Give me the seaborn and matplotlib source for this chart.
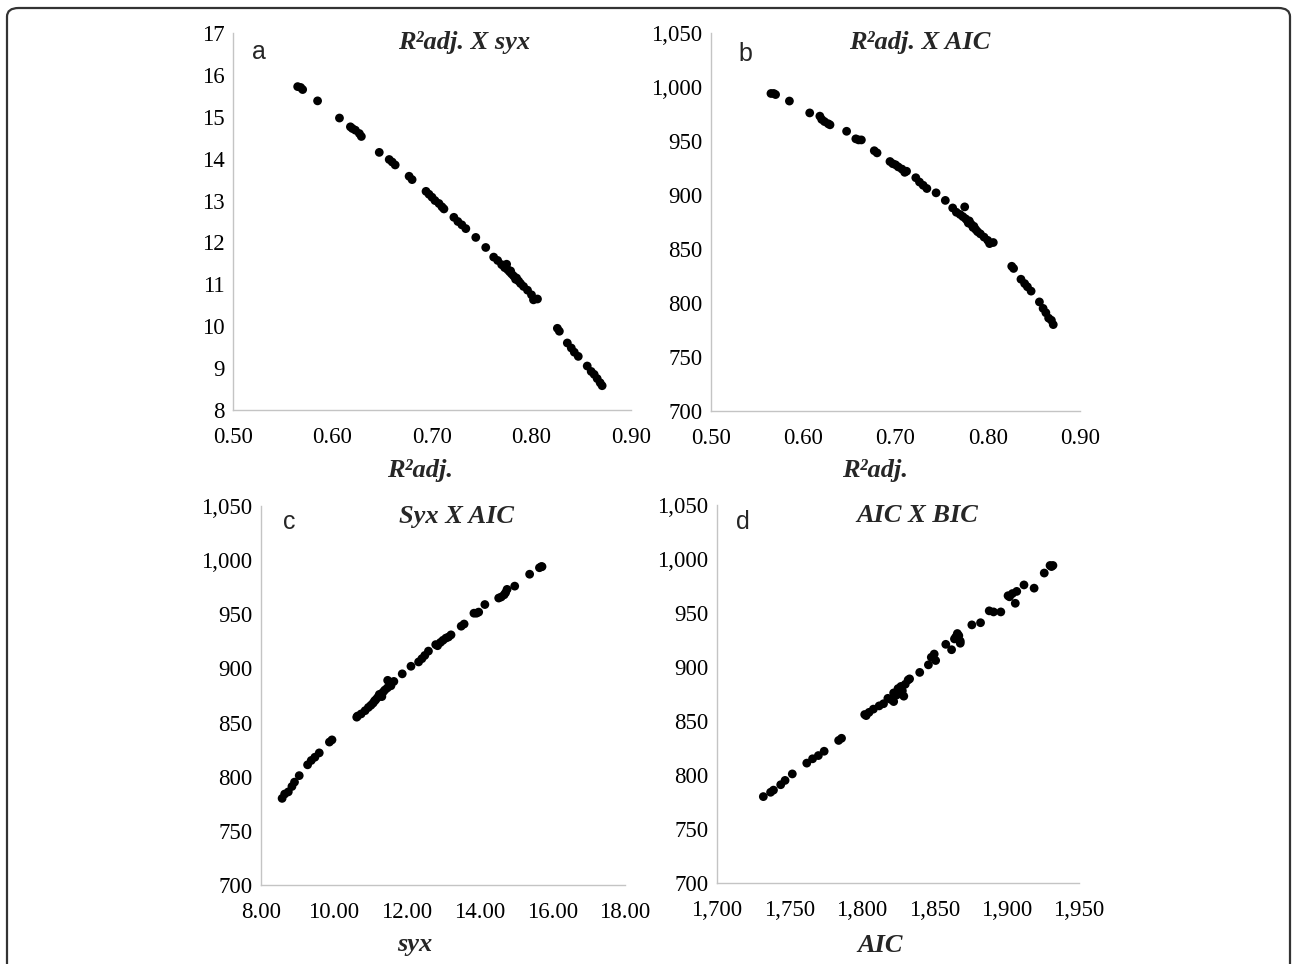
import matplotlib
matplotlib.use("Agg")
import matplotlib.pyplot as plt
from matplotlib.ticker import FuncFormatter, MultipleLocator
from matplotlib.patches import FancyBboxPatch
import seaborn as sns
import pandas as pd

# Fit statistics of the candidate models
r2_adj = [0.565, 0.568, 0.570, 0.585, 0.607, 0.618, 0.620, 0.623, 0.627, 0.629,
          0.647, 0.657, 0.660, 0.663, 0.677, 0.680, 0.694, 0.697, 0.700, 0.703,
          0.707, 0.710, 0.712, 0.722, 0.726, 0.730, 0.734, 0.744, 0.754, 0.762,
          0.766, 0.770, 0.773, 0.775, 0.776, 0.778, 0.779, 0.780, 0.782, 0.784,
          0.785, 0.787, 0.789, 0.792, 0.796, 0.800, 0.802, 0.806, 0.826, 0.828,
          0.836, 0.840, 0.843, 0.847, 0.856, 0.860, 0.863, 0.866, 0.869, 0.871]
syx = [15.72, 15.70, 15.65, 15.38, 14.97, 14.76, 14.72, 14.68, 14.60, 14.53,
       14.15, 13.98, 13.92, 13.85, 13.58, 13.50, 13.22, 13.15, 13.08, 13.00,
       12.93, 12.85, 12.80, 12.60, 12.50, 12.42, 12.33, 12.12, 11.88, 11.65,
       11.57, 11.47, 11.40, 11.48, 11.35, 11.30, 11.32, 11.25, 11.20, 11.12,
       11.15, 11.08, 11.02, 10.95, 10.86, 10.75, 10.63, 10.65, 9.95, 9.88,
       9.60, 9.48, 9.38, 9.28, 9.05, 8.92, 8.85, 8.75, 8.65, 8.58]
bic = [994, 994, 993, 987, 976, 973, 970, 968, 966, 965,
       959, 952, 951, 951, 941, 939, 931, 929, 928, 926,
       924, 921, 922, 916, 912, 909, 906, 902, 895, 888,
       884, 882, 880, 889, 878, 876, 874, 876, 873, 870,
       871, 868, 866, 864, 861, 858, 855, 856, 834, 832,
       822, 818, 815, 811, 801, 795, 791, 786, 784, 780]
aic = [1932, 1930, 1931, 1926, 1912, 1919, 1907, 1904, 1901, 1902,
       1906, 1888, 1891, 1896, 1882, 1876, 1866, 1867, 1865, 1864,
       1868, 1858, 1868, 1862, 1850, 1848, 1851, 1846, 1840, 1832,
       1830, 1827, 1825, 1833, 1828, 1826, 1824, 1822, 1829, 1820,
       1818, 1822, 1815, 1812, 1808, 1805, 1803, 1802, 1786, 1784,
       1774, 1770, 1766, 1762, 1752, 1747, 1744, 1739, 1737, 1732]

df = pd.DataFrame({"r2": r2_adj, "syx": syx, "aic": aic, "bic": bic})

sns.set_style("white")
plt.rcParams["font.family"] = ["Liberation Serif", "DejaVu Serif"]

W, H = 1292, 964
fig = plt.figure(figsize=(W / 100, H / 100), dpi=100)

def px_rect(l, t, r, b):
    return [l / W, 1 - b / H, (r - l) / W, (b - t) / H]

thousands = FuncFormatter(lambda v, p: f"{v:,.0f}")
two_dec = FuncFormatter(lambda v, p: f"{v:.2f}")
integer = FuncFormatter(lambda v, p: f"{v:.0f}")

panels = [
    dict(rect=px_rect(233, 33, 631, 410), x="r2", y="syx", xlim=(0.5, 0.9), xstep=0.1,
         ylim=(8, 17), ystep=1, xfmt=two_dec, yfmt=integer,
         title="R²adj. X syx", tpos=(464, 43),
         letter="a", lpos=(252, 52), xlabel="R²adj.", xlpos=(420, 470)),
    dict(rect=px_rect(711, 33, 1080, 411), x="r2", y="bic", xlim=(0.5, 0.9), xstep=0.1,
         ylim=(700, 1050), ystep=50, xfmt=two_dec, yfmt=thousands,
         title="R²adj. X AIC", tpos=(920, 43),
         letter="b", lpos=(738, 54), xlabel="R²adj.", xlpos=(875, 470)),
    dict(rect=px_rect(261, 506, 625, 885), x="syx", y="bic", xlim=(8, 18), xstep=2,
         ylim=(700, 1050), ystep=50, xfmt=two_dec, yfmt=thousands,
         title="Syx X AIC", tpos=(457, 516),
         letter="c", lpos=(283, 522), xlabel="syx", xlpos=(415, 945)),
    dict(rect=px_rect(717, 505, 1079, 883), x="aic", y="bic", xlim=(1700, 1950), xstep=50,
         ylim=(700, 1050), ystep=50, xfmt=thousands, yfmt=thousands,
         title="AIC X BIC", tpos=(917, 515),
         letter="d", lpos=(736, 522), xlabel="AIC", xlpos=(880, 945)),
]

for p in panels:
    ax = fig.add_axes(p["rect"])
    sns.scatterplot(data=df, x=p["x"], y=p["y"], ax=ax, color="black",
                    s=40, linewidth=0, edgecolor="none", clip_on=False)
    ax.set_xlim(*p["xlim"])
    ax.set_ylim(*p["ylim"])
    ax.xaxis.set_major_locator(MultipleLocator(p["xstep"]))
    ax.yaxis.set_major_locator(MultipleLocator(p["ystep"]))
    ax.xaxis.set_major_formatter(p["xfmt"])
    ax.yaxis.set_major_formatter(p["yfmt"])
    ax.set_xlabel("")
    ax.set_ylabel("")
    for side in ("top", "right"):
        ax.spines[side].set_visible(False)
    for side in ("left", "bottom"):
        ax.spines[side].set_color("#c4c4c4")
        ax.spines[side].set_linewidth(1.0)
    ax.tick_params(axis="both", which="major", direction="out", length=4,
                   width=1.0, color="#c4c4c4", labelsize=16.5, labelcolor="black")
    ax.tick_params(axis="x", pad=8)
    ax.tick_params(axis="y", pad=2)
    ax.set_facecolor("white")

    fig.text(p["tpos"][0] / W, 1 - p["tpos"][1] / H, p["title"], ha="center", va="center",
             fontsize=19, fontweight="bold", fontstyle="italic")
    fig.text(p["lpos"][0] / W, 1 - p["lpos"][1] / H, p["letter"], ha="left", va="center",
             fontsize=18, family="Liberation Sans")
    fig.text(p["xlpos"][0] / W, 1 - p["xlpos"][1] / H, p["xlabel"], ha="center", va="center",
             fontsize=19, fontweight="bold", fontstyle="italic")

# Rounded frame around the whole figure
frame = FancyBboxPatch((7 / W, -0.05), (1290 - 7) / W, (1 - 8 / H) + 0.05,
                       boxstyle="round,pad=0,rounding_size=0.009",
                       transform=fig.transFigure, fill=False,
                       edgecolor="#333333", linewidth=1.6, clip_on=False)
fig.patches.append(frame)

fig.savefig("out.png", dpi=100, facecolor="white")
